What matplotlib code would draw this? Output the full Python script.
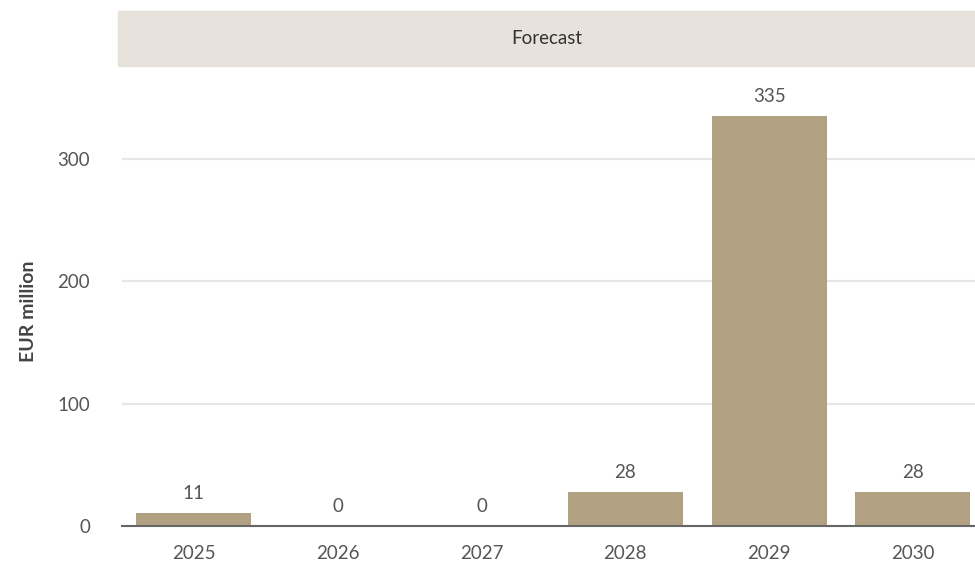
import matplotlib.pyplot as plt
from matplotlib.patches import Rectangle

years = ["2025", "2026", "2027", "2028", "2029", "2030"]
values = [11, 0, 0, 28, 335, 28]
y_ticks = [0, 100, 200, 300]
band_label = "Forecast"

bar_color = "#B1A182"
band_color = "#E7E2DC"
text_color = "#555555"

plt.rcParams["font.family"] = ["Lato", "DejaVu Sans"]

W, H = 975, 562
fig = plt.figure(figsize=(W / 100, H / 100), dpi=100)

# axes placed in pixel units
left, right, top, bottom = 122, 975, 68, 526
ax = fig.add_axes([left / W, 1 - bottom / H, (right - left) / W, (bottom - top) / H])

x = list(range(len(years)))
ax.bar(x, values, width=0.8, color=bar_color, zorder=3)

step = 143.8
ax.set_xlim(-0.5, -0.5 + (right - left) / step)
ax.set_ylim(0, (bottom - top) / 1.223)

fs = 13.5
ax.set_xticks(x)
ax.set_xticklabels(years, fontsize=fs, color=text_color)
ax.set_yticks(y_ticks)
ax.set_yticklabels([str(t) for t in y_ticks], fontsize=fs, color=text_color)
ax.tick_params(axis="x", length=0, pad=14)
ax.tick_params(axis="y", length=0, pad=23)

ax.grid(axis="y", color="#E6E6E6", linewidth=1.5, zorder=0)
for s in ["top", "right", "left"]:
    ax.spines[s].set_visible(False)
ax.spines["bottom"].set_color("#666666")
ax.spines["bottom"].set_linewidth(1.5)
ax.spines["bottom"].set_zorder(4)

for xi, v in zip(x, values):
    ax.annotate(str(v), (xi, v), xytext=(0, 14), textcoords="offset points",
                ha="center", va="center", fontsize=fs, color=text_color)

ax.set_ylabel("EUR million", fontsize=14, fontweight="bold", color="#444444")
ax.yaxis.set_label_coords(-85 / (right - left), 0.468)

# header band above the plot
fig.patches.append(Rectangle((118 / W, 1 - 66 / H), (975 - 118) / W, 55 / H,
                             transform=fig.transFigure, color=band_color, zorder=0))
fig.text((118 + 975) / 2 / W, 1 - 39 / H, band_label, ha="center", va="center",
         fontsize=fs, color="#333333")

fig.savefig("out.png", dpi=100)
